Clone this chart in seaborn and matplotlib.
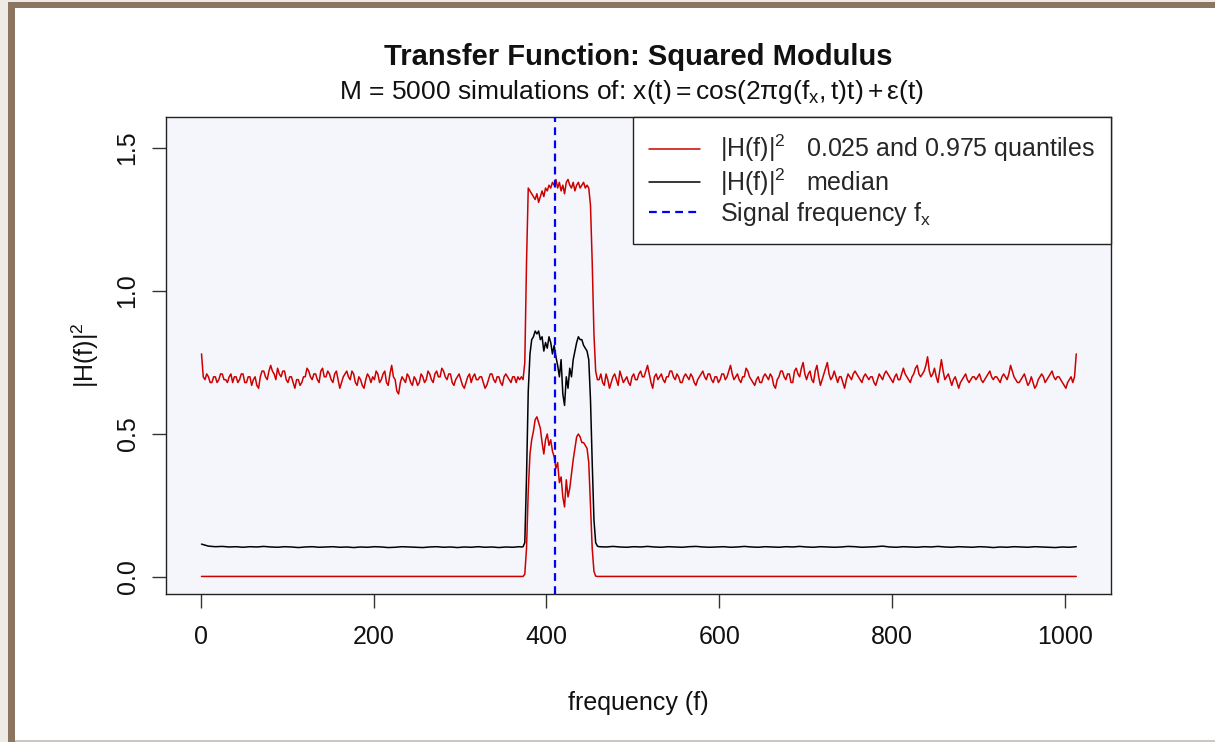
import numpy as np
import pandas as pd
import matplotlib
matplotlib.use("Agg")
import matplotlib.pyplot as plt
import seaborn as sns
from matplotlib.lines import Line2D
from matplotlib.patches import Rectangle

# ---------------------------------------------------------------------------
# Simulated squared modulus |H(f)|^2 : quantile / median curves
# Each curve is stored as (start frequency, step, values) pieces.
# ---------------------------------------------------------------------------

# 0.975 quantile
upper_left = [
    0.78, 0.70, 0.69, 0.71, 0.70, 0.68, 0.68, 0.70, 0.70, 0.68,
    0.69, 0.71, 0.71, 0.69, 0.69, 0.68, 0.70, 0.71, 0.68, 0.70,
    0.70, 0.68, 0.69, 0.71, 0.71, 0.68, 0.68, 0.70, 0.70, 0.67,
    0.69, 0.70, 0.67, 0.66, 0.70, 0.72, 0.72, 0.70, 0.69, 0.72,
    0.74, 0.72, 0.71, 0.69, 0.73, 0.71, 0.70, 0.72, 0.72, 0.69,
    0.68, 0.70, 0.70, 0.68, 0.66, 0.69, 0.69, 0.67, 0.68, 0.70,
    0.70, 0.73, 0.72, 0.70, 0.69, 0.71, 0.71, 0.69, 0.68, 0.72,
    0.73, 0.70, 0.70, 0.72, 0.71, 0.69, 0.68, 0.71, 0.72, 0.69,
    0.66, 0.68, 0.70, 0.71, 0.72, 0.70, 0.69, 0.72, 0.71, 0.68,
    0.67, 0.70, 0.69, 0.67, 0.66, 0.69, 0.71, 0.70, 0.68, 0.70,
    0.69, 0.72, 0.71, 0.68, 0.69, 0.71, 0.72, 0.68, 0.67, 0.71,
    0.74, 0.70, 0.69, 0.65, 0.64, 0.68, 0.70, 0.69, 0.68, 0.71,
    0.70, 0.68, 0.67, 0.70, 0.69, 0.67, 0.68, 0.71, 0.70, 0.68,
    0.69, 0.72, 0.71, 0.69, 0.68, 0.71, 0.72, 0.70, 0.70, 0.73,
    0.72, 0.70, 0.69, 0.71, 0.71, 0.68, 0.67, 0.69, 0.70, 0.71,
    0.69, 0.67, 0.66, 0.68, 0.70, 0.71, 0.68, 0.70, 0.71, 0.69,
    0.69, 0.70, 0.70, 0.68, 0.66, 0.67, 0.69, 0.71, 0.71, 0.69,
    0.68, 0.70, 0.70, 0.68, 0.67, 0.70, 0.71, 0.70, 0.69, 0.68,
    0.70, 0.70, 0.68, 0.70, 0.69, 0.70, 0.69,
]
upper_band = [
    0.75, 1.10, 1.36, 1.35, 1.34, 1.33, 1.32, 1.34, 1.31, 1.33,
    1.35, 1.33, 1.36, 1.35, 1.37, 1.36, 1.38, 1.37, 1.39, 1.36,
    1.38, 1.35, 1.37, 1.34, 1.38, 1.39, 1.37, 1.36, 1.38, 1.35,
    1.37, 1.38, 1.36, 1.37, 1.38, 1.36, 1.37, 1.36, 1.30, 1.10,
    0.85, 0.72, 0.69,
]
upper_right = [
    0.69, 0.71, 0.68, 0.67, 0.71, 0.69, 0.66, 0.68, 0.70, 0.71,
    0.69, 0.67, 0.72, 0.70, 0.68, 0.69, 0.70, 0.68, 0.67, 0.70,
    0.71, 0.69, 0.69, 0.71, 0.72, 0.70, 0.70, 0.72, 0.74, 0.71,
    0.68, 0.66, 0.70, 0.71, 0.69, 0.70, 0.71, 0.69, 0.68, 0.70,
    0.70, 0.72, 0.72, 0.70, 0.69, 0.71, 0.70, 0.68, 0.68, 0.70,
    0.71, 0.70, 0.69, 0.71, 0.70, 0.68, 0.67, 0.69, 0.70, 0.71,
    0.72, 0.70, 0.69, 0.71, 0.71, 0.69, 0.68, 0.70, 0.70, 0.68,
    0.69, 0.71, 0.71, 0.69, 0.70, 0.72, 0.74, 0.71, 0.69, 0.70,
    0.71, 0.69, 0.68, 0.70, 0.70, 0.73, 0.72, 0.70, 0.69, 0.68,
    0.67, 0.69, 0.70, 0.68, 0.68, 0.70, 0.71, 0.70, 0.69, 0.71,
    0.70, 0.67, 0.66, 0.69, 0.70, 0.72, 0.72, 0.70, 0.69, 0.71,
    0.71, 0.68, 0.68, 0.72, 0.73, 0.71, 0.70, 0.73, 0.75, 0.71,
    0.69, 0.71, 0.72, 0.69, 0.68, 0.72, 0.74, 0.70, 0.67, 0.69,
    0.71, 0.73, 0.75, 0.71, 0.69, 0.70, 0.72, 0.70, 0.68, 0.70,
    0.70, 0.68, 0.66, 0.69, 0.71, 0.70, 0.69, 0.71, 0.72, 0.71,
    0.70, 0.69, 0.68, 0.70, 0.71, 0.70, 0.69, 0.70, 0.70, 0.68,
    0.67, 0.69, 0.71, 0.70, 0.69, 0.71, 0.72, 0.71, 0.70, 0.69,
    0.68, 0.70, 0.71, 0.69, 0.69, 0.71, 0.73, 0.71, 0.70, 0.69,
    0.68, 0.70, 0.71, 0.73, 0.74, 0.71, 0.70, 0.71, 0.72, 0.74,
    0.77, 0.72, 0.70, 0.71, 0.73, 0.70, 0.68, 0.72, 0.76, 0.72,
    0.69, 0.70, 0.71, 0.69, 0.67, 0.69, 0.70, 0.68, 0.66, 0.68,
    0.69, 0.70, 0.71, 0.69, 0.68, 0.69, 0.70, 0.70, 0.69, 0.70,
    0.71, 0.69, 0.68, 0.69, 0.70, 0.71, 0.72, 0.70, 0.69, 0.70,
    0.70, 0.69, 0.68, 0.70, 0.71, 0.70, 0.69, 0.71, 0.74, 0.72,
    0.70, 0.69, 0.68, 0.68, 0.69, 0.70, 0.71, 0.69, 0.67, 0.68,
    0.70, 0.68, 0.66, 0.67, 0.69, 0.70, 0.71, 0.70, 0.68, 0.69,
    0.70, 0.71, 0.72, 0.70, 0.69, 0.70, 0.70, 0.69, 0.68, 0.67,
    0.66, 0.68, 0.69, 0.70, 0.68, 0.70, 0.78,
]

# median
median_left = [
    0.115, 0.108, 0.106, 0.107, 0.105, 0.106, 0.104, 0.106, 0.105, 0.107,
    0.105, 0.104, 0.106, 0.105, 0.103, 0.105, 0.106, 0.104, 0.105, 0.106,
    0.104, 0.105, 0.103, 0.105, 0.104, 0.106, 0.105, 0.103, 0.104, 0.106,
    0.105, 0.104, 0.103, 0.105, 0.106, 0.104, 0.105, 0.103, 0.105, 0.104,
    0.106, 0.104, 0.105, 0.103, 0.105, 0.104, 0.106,
]
median_band = [
    0.105, 0.106, 0.12, 0.35, 0.65, 0.78, 0.83, 0.84, 0.86, 0.85,
    0.86, 0.83, 0.84, 0.79, 0.82, 0.80, 0.84, 0.82, 0.78, 0.81,
    0.77, 0.74, 0.70, 0.76, 0.64, 0.60, 0.70, 0.66, 0.73, 0.70,
    0.76, 0.79, 0.82, 0.84, 0.83, 0.83, 0.81, 0.80, 0.79, 0.76,
    0.62, 0.40, 0.20, 0.12, 0.108,
]
median_right = [
    0.106, 0.105, 0.107, 0.105, 0.104, 0.106, 0.105, 0.107, 0.105, 0.104,
    0.106, 0.105, 0.104, 0.106, 0.107, 0.105, 0.104, 0.105, 0.106, 0.104,
    0.105, 0.107, 0.105, 0.104, 0.106, 0.105, 0.104, 0.106, 0.105, 0.107,
    0.105, 0.104, 0.106, 0.105, 0.104, 0.105, 0.107, 0.106, 0.104, 0.105,
    0.106, 0.108, 0.105, 0.104, 0.106, 0.105, 0.104, 0.106, 0.105, 0.107,
    0.105, 0.104, 0.106, 0.105, 0.104, 0.106, 0.105, 0.103, 0.105, 0.104,
    0.106, 0.105, 0.104, 0.106, 0.105, 0.104, 0.103, 0.105, 0.104, 0.106,
]

# 0.025 quantile
lower_left = [0.002, 0.002]
lower_band = [
    0.002, 0.002, 0.01, 0.10, 0.30, 0.43, 0.48, 0.51, 0.55, 0.56,
    0.54, 0.52, 0.47, 0.43, 0.48, 0.50, 0.46, 0.48, 0.44, 0.42,
    0.38, 0.40, 0.33, 0.35, 0.28, 0.245, 0.34, 0.28, 0.31, 0.36,
    0.41, 0.45, 0.49, 0.50, 0.49, 0.47, 0.47, 0.46, 0.45, 0.40,
    0.25, 0.10, 0.02, 0.003, 0.002,
]
lower_right = [0.002, 0.002]

signal_freq = 410

x_ticks = [0, 200, 400, 600, 800, 1000]
y_ticks = [0.0, 0.5, 1.0, 1.5]
y_tick_labels = ["0.0", "0.5", "1.0", "1.5"]


def piece(start, step, values):
    vals = np.asarray(values, dtype=float)
    return pd.DataFrame({"freq": start + step * np.arange(len(vals)), "H2": vals})


def curve(pieces):
    return pd.concat([piece(*p) for p in pieces], ignore_index=True)


upper = curve([(1, 2, upper_left), (375, 2, upper_band), (461, 2, upper_right)])
median = curve([(1, 8, median_left), (371, 2, median_band), (461, 8, median_right)])
lower = curve([(1, 368, lower_left), (371, 2, lower_band), (461, 552, lower_right)])

# ---------------------------------------------------------------------------
# Style
# ---------------------------------------------------------------------------
sns.set_style("ticks")
plt.rcParams["font.family"] = ["Liberation Sans", "DejaVu Sans"]
plt.rcParams["mathtext.fontset"] = "custom"
plt.rcParams["mathtext.rm"] = "Liberation Sans"
plt.rcParams["mathtext.it"] = "Liberation Sans:italic"
plt.rcParams["mathtext.bf"] = "Liberation Sans:bold"

RED = "#cd0000"
W, H = 1215, 742

fig = plt.figure(figsize=(W / 100, H / 100), dpi=100)
fig.patch.set_facecolor("white")


def frame_rect(x, y_top, w, h, color):
    fig.add_artist(Rectangle((x / W, 1 - (y_top + h) / H), w / W, h / H,
                             transform=fig.transFigure, facecolor=color,
                             edgecolor="none", zorder=-5))


# page border around the figure
frame_rect(0, 0, 8, H, "#eeebe6")
frame_rect(0, 0, W, 2, "#eeebe6")
frame_rect(8, 2, 7, H - 2, "#8c7560")
frame_rect(8, 2, W - 8, 6, "#8c7560")
frame_rect(15, H - 2, W - 15, 2, "#cdc7c0")

ax = fig.add_axes([166 / W, (H - 594) / H, 945 / W, 477 / H])
ax.set_facecolor("#f5f6fc")

sns.lineplot(data=lower, x="freq", y="H2", ax=ax, color=RED, lw=1.1,
             estimator=None, sort=False, zorder=3)
sns.lineplot(data=upper, x="freq", y="H2", ax=ax, color=RED, lw=1.1,
             estimator=None, sort=False, zorder=3)
sns.lineplot(data=median, x="freq", y="H2", ax=ax, color="black", lw=1.1,
             estimator=None, sort=False, zorder=4)
ax.axvline(signal_freq, color="#0000ff", lw=1.6, ls=(0, (3.5, 2.4)), zorder=5)

ax.set_xlim(-40.1, 1053.2)
ax.set_ylim(-0.0594, 1.6084)
ax.set_xticks(x_ticks)
ax.set_yticks(y_ticks)
ax.set_yticklabels(y_tick_labels)

for sp in ax.spines.values():
    sp.set_visible(True)
    sp.set_linewidth(1.0)
    sp.set_color("#222222")

ax.tick_params(axis="both", length=10, width=1.0, color="#333333",
               labelsize=18, labelcolor="#111111")
ax.tick_params(axis="x", pad=12.5)
ax.tick_params(axis="y", pad=9, labelrotation=90)
for lab in ax.get_yticklabels():
    lab.set_va("center")

ax.set_xlabel("frequency (f)", fontsize=18, color="#111111")
ax.xaxis.set_label_coords(0.5, -0.228)
ax.xaxis.label.set_va("center")
ax.set_ylabel(r"$\mathregular{|H(f)|^2}$", fontsize=18, color="#111111")
ax.yaxis.set_label_coords(-0.0857, 0.5)
ax.yaxis.label.set_va("center")

fig.text(638.5 / W, 1 - 57 / H, "Transfer Function: Squared Modulus",
         ha="center", va="center", fontsize=21, fontweight="bold", color="#111111")
fig.text(632 / W, 1 - 92 / H,
         r"M = 5000 simulations of: $\mathregular{x(t) = cos(2\pi g(f_x,t)t) + \varepsilon(t)}$",
         ha="center", va="center", fontsize=19, color="#111111")

handles = [
    Line2D([], [], color=RED, lw=1.1),
    Line2D([], [], color="black", lw=1.1),
    Line2D([], [], color="#0000ff", lw=1.6, ls=(0, (3.5, 2.4))),
]
labels = [
    r"$\mathregular{|H(f)|^2}$   0.025 and 0.975 quantiles",
    r"$\mathregular{|H(f)|^2}$   median",
    r"Signal frequency $\mathregular{f_x}$",
]
leg = ax.legend(handles, labels, loc="upper right", bbox_to_anchor=(1, 1),
                borderaxespad=0, fontsize=18, handlelength=2.05,
                handletextpad=0.8, borderpad=0.64, labelspacing=0.08,
                frameon=True, fancybox=False, framealpha=1,
                facecolor="white", edgecolor="#222222")
leg.get_frame().set_linewidth(1.0)
leg.set_zorder(10)

fig.savefig("out.png", dpi=100, facecolor=fig.get_facecolor())
